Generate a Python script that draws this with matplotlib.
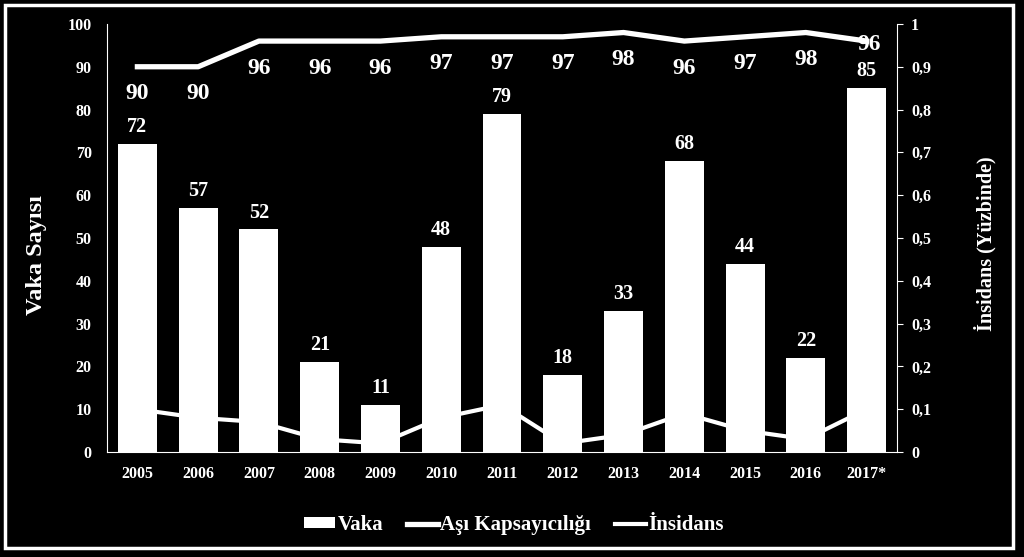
import numpy as np
import matplotlib
matplotlib.use('Agg')
import matplotlib.pyplot as plt
from matplotlib.patches import Rectangle
from matplotlib.ticker import FuncFormatter

plt.rcParams['font.family'] = ['Liberation Serif', 'DejaVu Serif']
plt.rcParams['font.weight'] = 'bold'

# veriler
years = ['2005', '2006', '2007', '2008', '2009', '2010', '2011',
         '2012', '2013', '2014', '2015', '2016', '2017*']
vaka = [72, 57, 52, 21, 11, 48, 79, 18, 33, 68, 44, 22, 85]
asi = [90, 90, 96, 96, 96, 97, 97, 97, 98, 96, 97, 98, 96]
insidans = [0.10, 0.08, 0.07, 0.03, 0.02, 0.08, 0.11, 0.02, 0.04, 0.09, 0.05, 0.03, 0.10]

fig = plt.figure(figsize=(10.24, 5.57), dpi=100, facecolor='black')
ax = fig.add_axes([0.1045, 0.1885, 0.7715, 0.7685])
ax.set_facecolor('black')
ax2 = ax.twinx()

x = np.arange(len(years))
ax.bar(x, vaka, width=0.64, color='white', label='Vaka', zorder=3)
for xi, v in zip(x, vaka):
    ax.text(xi, v + 1.6, str(v), ha='center', va='bottom', color='white',
            fontsize=14.5, fontweight='bold')

# aşı kapsayıcılığı (sol eksen ölçeğinde)
ax.plot(x, asi, color='white', lw=3.8, label='Aşı Kapsayıcılığı', zorder=4)
for xi, v in zip(x[:-1], asi[:-1]):
    ax.text(xi, v - 3.9, str(v), ha='center', va='top', color='white',
            fontsize=17, fontweight='bold')
ax.text(x[-1] + 0.04, asi[-1] - 0.8, str(asi[-1]), ha='center', va='center',
        color='white', fontsize=17, fontweight='bold', zorder=5)

# insidans (sağ eksen)
ax2.plot(x, insidans, color='white', lw=3, label='İnsidans', zorder=1)

ax.set_xlim(-0.5, len(years) - 0.5)
ax.set_ylim(0, 100)
ax2.set_ylim(0, 1)
ax.set_yticks(range(0, 101, 10))
ax2.set_yticks(np.arange(0, 1.01, 0.1))
ax2.yaxis.set_major_formatter(FuncFormatter(
    lambda v, p: '0' if v == 0 else ('1' if abs(v - 1) < 1e-9 else f'{v:.1f}'.replace('.', ','))))
ax.set_xticks(x)
ax.set_xticklabels(years)

for a in (ax, ax2):
    a.set_facecolor('none')
    for s in a.spines.values():
        s.set_visible(False)
ax.spines['left'].set_visible(True)
ax.spines['left'].set_color('white')
ax.spines['bottom'].set_visible(True)
ax.spines['bottom'].set_color('white')
ax2.spines['right'].set_visible(True)
ax2.spines['right'].set_color('white')

ax.tick_params(axis='y', colors='white', labelsize=11.5, length=0, pad=11)
ax.tick_params(axis='x', colors='white', labelsize=11.5, length=0, pad=10)
ax2.tick_params(axis='y', colors='white', labelsize=11.5, length=4, pad=6)
ax.set_zorder(ax2.get_zorder() + 1)

ax.set_ylabel('Vaka Sayısı', color='white', fontsize=17.5, fontweight='bold')
ax.yaxis.set_label_coords(-0.0759, 0.46)
ax2.set_ylabel('İnsidans (Yüzbinde)', color='white', fontsize=14.5, fontweight='bold')
ax2.yaxis.set_label_coords(1.097, 0.486)

h1, l1 = ax.get_legend_handles_labels()
h2, l2 = ax2.get_legend_handles_labels()
handles = [h1[1], h1[0], h2[0]]
labels = [l1[1], l1[0], l2[0]]
leg = fig.legend(handles, labels, loc='center', bbox_to_anchor=(0.502, 0.0575), ncol=3,
                 frameon=False, fontsize=15, handlelength=1.5, handleheight=0.4,
                 handletextpad=0.1, columnspacing=1.15)
for t in leg.get_texts():
    t.set_color('white')

fig.patches.append(Rectangle((0.005, 0.016), 0.984, 0.975, transform=fig.transFigure,
                             fill=False, edgecolor='white', lw=2.5))

fig.savefig('out.png', dpi=100, facecolor='black')
